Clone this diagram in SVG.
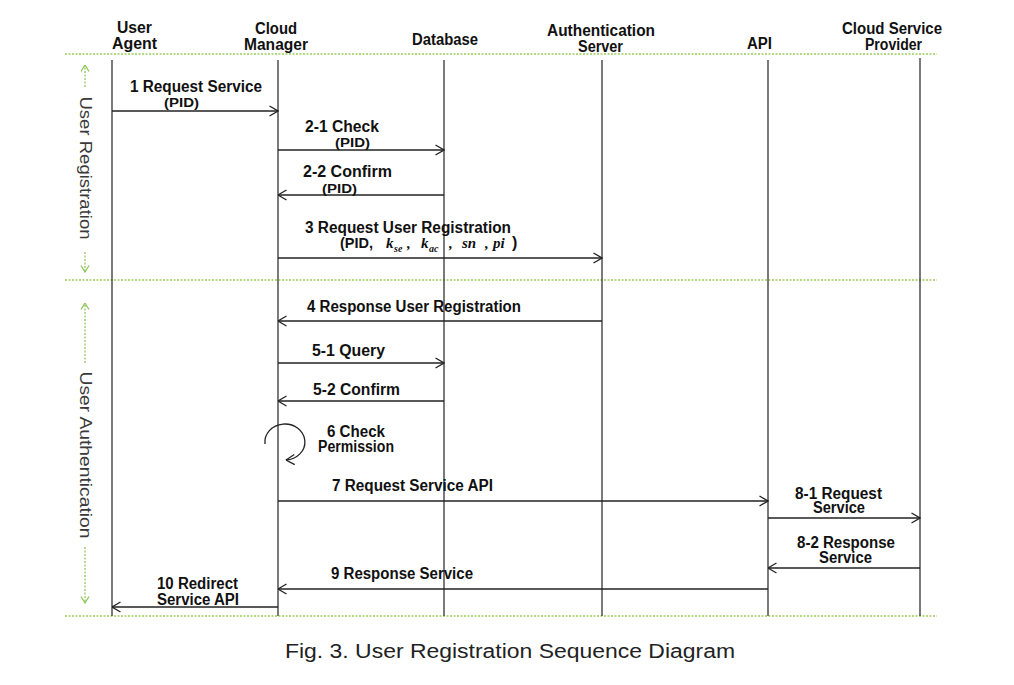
<svg xmlns="http://www.w3.org/2000/svg" width="1014" height="685" viewBox="0 0 1014 685">
<style>
.hd{font-family:"Liberation Sans",Arial,sans-serif;font-weight:bold;font-size:16px;fill:#111}
.lb{font-family:"Liberation Sans",Arial,sans-serif;font-weight:bold;font-size:16px;fill:#111}
.pid{font-family:"Liberation Sans",Arial,sans-serif;font-weight:bold;font-size:13px;fill:#111}
.mi{font-family:"Liberation Serif","Times New Roman",serif;font-weight:bold;font-style:italic;font-size:15px;fill:#111}
.ms{font-family:"Liberation Serif","Times New Roman",serif;font-weight:bold;font-style:italic;font-size:10px;fill:#111}
.side{font-family:"Liberation Sans",Arial,sans-serif;font-size:16px;fill:#3a3a3a}
.cap{font-family:"Liberation Sans",Arial,sans-serif;font-size:20px;fill:#222}
.life{stroke:#333;stroke-width:1.3;fill:none}
.sep{stroke:#9ccc5a;stroke-width:1.5;stroke-dasharray:2 1.5;fill:none}
.msg{stroke:#222;stroke-width:1.3;fill:none;marker-end:url(#ah)}
.gar{stroke:#8cc152;stroke-width:1.2;stroke-dasharray:2 1.5;fill:none;marker-end:url(#gh)}
</style>
<defs>
<marker id="ah" viewBox="0 0 10 12" refX="9.5" refY="6" markerWidth="10" markerHeight="12" markerUnits="userSpaceOnUse" orient="auto">
<path d="M1,1 L9.5,6 L1,11" fill="none" stroke="#222" stroke-width="1.3"/>
</marker>
<marker id="gh" viewBox="0 0 8 10" refX="7.5" refY="5" markerWidth="8" markerHeight="10" markerUnits="userSpaceOnUse" orient="auto">
<path d="M1,1 L7.5,5 L1,9" fill="none" stroke="#8cc152" stroke-width="1.2"/>
</marker>
</defs>
<rect width="1014" height="685" fill="#fff"/>

<g id="separators">
<line class="sep" x1="65" y1="54" x2="937" y2="54"/>
<line class="sep" x1="65" y1="280" x2="937" y2="280"/>
<line class="sep" x1="65" y1="616" x2="937" y2="616"/>
</g>

<g id="phase-registration">
<line class="gar" x1="85" y1="87" x2="85" y2="65"/>
<text class="side" transform="translate(80,168) rotate(90)" text-anchor="middle" textLength="143" lengthAdjust="spacingAndGlyphs">User Registration</text>
<line class="gar" x1="85" y1="252" x2="85" y2="272"/>
</g>
<g id="phase-authentication">
<line class="gar" x1="85" y1="363" x2="85" y2="303"/>
<text class="side" transform="translate(80,455) rotate(90)" text-anchor="middle" textLength="167" lengthAdjust="spacingAndGlyphs">User Authentication</text>
<line class="gar" x1="85" y1="547" x2="85" y2="603"/>
</g>

<g id="user-agent">
<text class="hd" x="117" y="33" textLength="35" lengthAdjust="spacingAndGlyphs">User</text>
<text class="hd" x="112" y="49" textLength="45" lengthAdjust="spacingAndGlyphs">Agent</text>
<line class="life" x1="112" y1="60" x2="112" y2="616"/>
</g>
<g id="cloud-manager">
<text class="hd" x="255" y="34" textLength="42" lengthAdjust="spacingAndGlyphs">Cloud</text>
<text class="hd" x="244" y="50" textLength="64" lengthAdjust="spacingAndGlyphs">Manager</text>
<line class="life" x1="278" y1="60" x2="278" y2="616"/>
</g>
<g id="database">
<text class="hd" x="412" y="45" textLength="66" lengthAdjust="spacingAndGlyphs">Database</text>
<line class="life" x1="444" y1="60" x2="444" y2="616"/>
</g>
<g id="authentication-server">
<text class="hd" x="547" y="36" textLength="108" lengthAdjust="spacingAndGlyphs">Authentication</text>
<text class="hd" x="578" y="52" textLength="45" lengthAdjust="spacingAndGlyphs">Server</text>
<line class="life" x1="602" y1="60" x2="602" y2="616"/>
</g>
<g id="api">
<text class="hd" x="747" y="49" textLength="25" lengthAdjust="spacingAndGlyphs">API</text>
<line class="life" x1="768" y1="60" x2="768" y2="616"/>
</g>
<g id="cloud-service-provider">
<text class="hd" x="842" y="34" textLength="100" lengthAdjust="spacingAndGlyphs">Cloud Service</text>
<text class="hd" x="865" y="50" textLength="57" lengthAdjust="spacingAndGlyphs">Provider</text>
<line class="life" x1="920" y1="58" x2="920" y2="616"/>
</g>

<g id="connectors">
<line class="msg" x1="112" y1="111" x2="278" y2="111"/>
<line class="msg" x1="278" y1="150" x2="444" y2="150"/>
<line class="msg" x1="444" y1="195" x2="278" y2="195"/>
<line class="msg" x1="278" y1="258" x2="602" y2="258"/>
<line class="msg" x1="602" y1="321" x2="278" y2="321"/>
<line class="msg" x1="278" y1="363" x2="444" y2="363"/>
<line class="msg" x1="444" y1="401" x2="278" y2="401"/>
<path class="msg" d="M265,444 A20,18 0 1 1 286,460"/>
<line class="msg" x1="278" y1="501" x2="768" y2="501"/>
<line class="msg" x1="768" y1="518" x2="920" y2="518"/>
<line class="msg" x1="920" y1="568" x2="768" y2="568"/>
<line class="msg" x1="768" y1="589" x2="278" y2="589"/>
<line class="msg" x1="278" y1="607" x2="112" y2="607"/>
</g>

<g id="labels">
<text class="lb" x="130" y="92" textLength="132" lengthAdjust="spacingAndGlyphs">1 Request Service</text>
<text class="pid" x="164" y="107" textLength="35" lengthAdjust="spacingAndGlyphs">(PID)</text>
<text class="lb" x="305" y="132" textLength="74" lengthAdjust="spacingAndGlyphs">2-1 Check</text>
<text class="pid" x="335" y="147" textLength="35" lengthAdjust="spacingAndGlyphs">(PID)</text>
<text class="lb" x="303" y="177" textLength="89" lengthAdjust="spacingAndGlyphs">2-2 Confirm</text>
<text class="pid" x="322" y="193" textLength="35" lengthAdjust="spacingAndGlyphs">(PID)</text>
<text class="lb" x="305" y="233" textLength="206" lengthAdjust="spacingAndGlyphs">3 Request User Registration</text>
<text class="lb" x="340" y="248" textLength="33" lengthAdjust="spacingAndGlyphs" style="font-size:15px">(PID,</text>
<text class="mi" x="386" y="248">k</text><text class="ms" x="394" y="252">se</text>
<text class="mi" x="407" y="248">,</text>
<text class="mi" x="421" y="248">k</text><text class="ms" x="429" y="252">ac</text>
<text class="mi" x="449" y="248">,</text>
<text class="mi" x="462" y="248">sn</text>
<text class="mi" x="485" y="248">,</text>
<text class="mi" x="493" y="248">pi</text>
<text class="lb" x="512" y="248" style="font-size:16px">)</text>
<text class="lb" x="307" y="312" textLength="214" lengthAdjust="spacingAndGlyphs">4 Response User Registration</text>
<text class="lb" x="312" y="356" textLength="73" lengthAdjust="spacingAndGlyphs">5-1 Query</text>
<text class="lb" x="313" y="395" textLength="87" lengthAdjust="spacingAndGlyphs">5-2 Confirm</text>
<text class="lb" x="327" y="437" textLength="58" lengthAdjust="spacingAndGlyphs">6 Check</text>
<text class="lb" x="318" y="452" textLength="76" lengthAdjust="spacingAndGlyphs">Permission</text>
<text class="lb" x="332" y="491" textLength="161" lengthAdjust="spacingAndGlyphs">7 Request Service API</text>
<text class="lb" x="795" y="499" textLength="87" lengthAdjust="spacingAndGlyphs">8-1 Request</text>
<text class="lb" x="813" y="513" textLength="52" lengthAdjust="spacingAndGlyphs">Service</text>
<text class="lb" x="797" y="548" textLength="98" lengthAdjust="spacingAndGlyphs">8-2 Response</text>
<text class="lb" x="819" y="563" textLength="53" lengthAdjust="spacingAndGlyphs">Service</text>
<text class="lb" x="331" y="579" textLength="142" lengthAdjust="spacingAndGlyphs">9 Response Service</text>
<text class="lb" x="157" y="589" textLength="81" lengthAdjust="spacingAndGlyphs">10 Redirect</text>
<text class="lb" x="157" y="605" textLength="82" lengthAdjust="spacingAndGlyphs">Service API</text>
</g>

<text class="cap" x="285" y="658" textLength="450" lengthAdjust="spacingAndGlyphs">Fig. 3. User Registration Sequence Diagram</text>
</svg>
